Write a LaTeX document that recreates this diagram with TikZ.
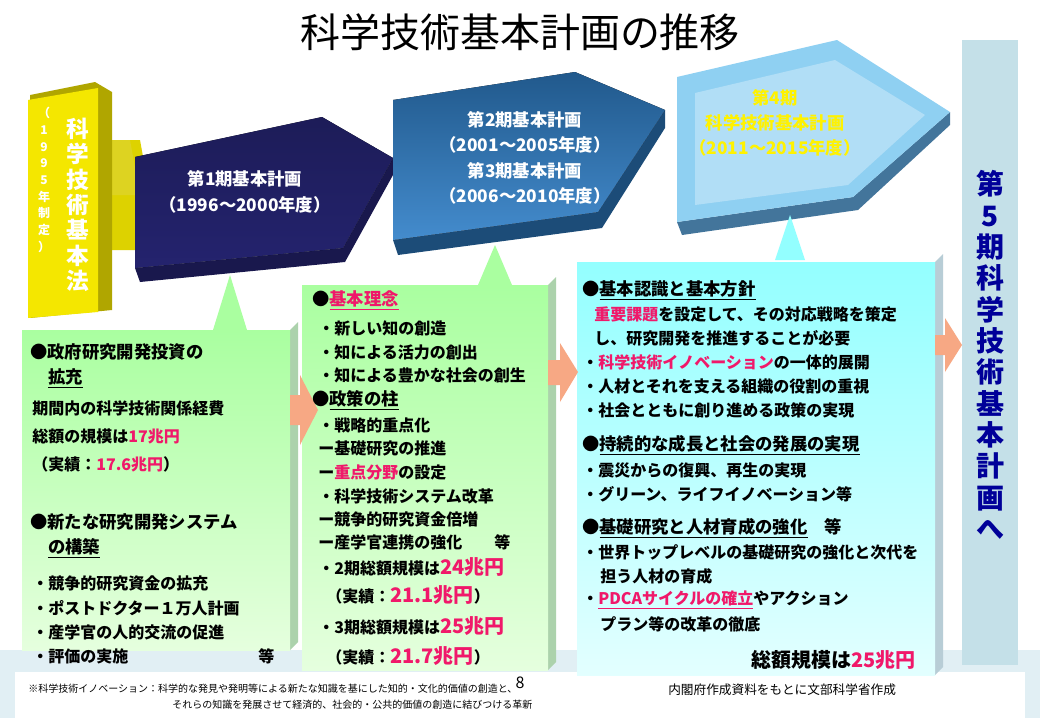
\documentclass[tikz,border=0pt]{standalone}
\usepackage{fontspec}
\setmainfont{Noto Sans CJK JP}
\usetikzlibrary{shadings}
\definecolor{rd}{HTML}{F0186A}
\definecolor{navy}{HTML}{24236E}
\definecolor{blu}{HTML}{2F7FC8}
\definecolor{lblu}{HTML}{8FD0F2}
\definecolor{grn}{HTML}{D4FFC8}
\definecolor{cyn}{HTML}{B8FFFF}
\definecolor{col5}{HTML}{C4E0E8}
\definecolor{org}{HTML}{F7A884}
\newcommand{\rr}[1]{\textcolor{rd}{#1}}
\tikzset{
 tx/.style={anchor=west,inner sep=0pt,font=\fontsize{12}{14}\selectfont\bfseries},
 hd/.style={anchor=west,inner sep=0pt,font=\fontsize{13}{15}\selectfont\bfseries},
 vt/.style={align=center,inner sep=0pt,font=\bfseries},
 arr/.style={fill=org,draw=none},
}
\begin{document}
\begin{tikzpicture}[x=0.75pt,y=-0.75pt]
\useasboundingbox (0,0) rectangle (1040,718);
\fill[white] (0,0) rectangle (1040,718);
\fill[col5!50] (0,650) rectangle (1040,718);
\fill[white] (15,672) rectangle (1025,718);
% title
\node[font=\fontsize{30}{33}\selectfont] (title) at (520,32) {科学技術基本計画の推移};
% yellow column and arrow
\fill[yellow!70!olive] (110,140) -- (140,140) -- (150,195) -- (140,250) -- (110,250) -- cycle;
\fill[yellow!85!black] (110,140) -- (130,140) -- (140,195) -- (110,195) -- cycle;
\fill[olive!70!yellow] (30,95) -- (95,82) -- (112,92) -- (112,310) -- (30,318) -- cycle;
\fill[yellow!90!olive] (28,100) -- (98,88) -- (98,312) -- (28,318) -- cycle;
\node[vt,font=\fontsize{17}{19}\selectfont\bfseries,white] (law) at (78,205) {科\\学\\技\\術\\基\\本\\法};
\node[vt,font=\fontsize{9}{12.5}\selectfont\bfseries,white] (law2) at (44,180) {（\\1\\9\\9\\5\\年\\制\\定\\）};
% navy hexagon
\fill[navy!70!black] (135,268) -- (343,248) -- (393,158) -- (393,175) -- (345,262) -- (140,282) -- cycle;
\fill[top color=navy!80!black,bottom color=navy] (135,157) -- (322,117) -- (393,158) -- (343,248) -- (135,268) -- cycle;
\node[white,align=center,font=\fontsize{13}{19}\selectfont\bfseries] (p1) at (245,192) {第1期基本計画\\（1996～2000年度）};
% blue hexagon
\fill[blu!60!black] (393,240) -- (598,212) -- (665,110) -- (665,128) -- (602,228) -- (398,255) -- cycle;
\fill[top color=blu!70!black,bottom color=blu!90] (393,100) -- (575,72) -- (665,110) -- (598,212) -- (393,240) -- cycle;
\node[white,align=center,font=\fontsize{13}{19}\selectfont\bfseries] (p23) at (525,158) {第2期基本計画\\（2001～2005年度）\\第3期基本計画\\（2006～2010年度）};
% light blue hexagon
\fill[blu!50!lblu!70!black] (677,222) -- (853,197) -- (950,112) -- (950,125) -- (858,210) -- (682,235) -- cycle;
\fill[lblu] (677,77) -- (837,40) -- (950,112) -- (853,197) -- (677,222) -- cycle;
\fill[lblu!70!white] (695,93) -- (835,60) -- (925,115) -- (848,185) -- (695,205) -- cycle;
\node[yellow,align=center,font=\fontsize{13}{19}\selectfont\bfseries] (p4) at (775,123) {第4期\\科学技術基本計画\\（2011～2015年度）};
% right column
\fill[col5] (962,40) rectangle (1018,665);
\node[vt,font=\fontsize{21}{23.5}\selectfont\bfseries,blue!60!black] (p5) at (990,355) {第\\5\\期\\科\\学\\技\\術\\基\\本\\計\\画\\へ};
% callout triangles
\fill[grn!80!green] (213,330) -- (230,275) -- (247,330) -- cycle;
\fill[grn!80!green] (478,285) -- (495,245) -- (512,285) -- cycle;
\fill[cyn!80!cyan] (775,260) -- (790,215) -- (805,260) -- cycle;
% boxes
\fill[green!30!gray!50] (290,330) -- (298,322) -- (298,642) -- (290,650) -- cycle;
\fill[top color=grn!80!green,bottom color=grn!60!white] (22,330) rectangle (290,650);
\fill[green!30!gray!50] (548,285) -- (556,277) -- (556,662) -- (548,670) -- cycle;
\fill[top color=grn!80!green,bottom color=grn!60!white] (302,285) rectangle (548,670);
\fill[cyan!30!gray!50] (935,262) -- (943,254) -- (943,667) -- (935,675) -- cycle;
\fill[top color=cyn!80!cyan,bottom color=cyn!40!white] (577,262) rectangle (935,675);
% orange arrows
\fill[arr] (290,395) -- (300,395) -- (300,375) -- (318,410) -- (300,445) -- (300,425) -- (290,425) -- cycle;
\fill[arr] (548,360) -- (560,360) -- (560,343) -- (578,372) -- (560,402) -- (560,385) -- (548,385) -- cycle;
\fill[arr] (935,335) -- (945,335) -- (945,318) -- (962,345) -- (945,372) -- (945,355) -- (935,355) -- cycle;
% box1 text
\node[hd] (a1) at (30,352) {●政府研究開発投資の};
\node[hd] (a2) at (48,378) {\underline{拡充}};
\node[tx] (a3) at (32,408) {期間内の科学技術関係経費};
\node[tx] (a4) at (32,436) {総額の規模は\rr{17兆円}};
\node[tx] (a5) at (32,464) {（実績：\rr{17.6兆円}）};
\node[hd] (a6) at (30,522) {●新たな研究開発システム};
\node[hd] (a7) at (48,548) {\underline{の構築}};
\node[tx] (a8) at (32,583) {・競争的研究資金の拡充};
\node[tx] (a9) at (32,608) {・ポストドクター１万人計画};
\node[tx] (a10) at (32,632) {・産学官の人的交流の促進};
\node[tx] (a11) at (32,656) {・評価の実施};
\node[tx] (a12) at (258,656) {等};
% box2 text
\node[hd] (b1) at (312,300) {●\rr{\underline{基本理念}}};
\node[tx] (b2) at (318,328) {・新しい知の創造};
\node[tx] (b3) at (318,352) {・知による活力の創出};
\node[tx] (b4) at (318,375) {・知による豊かな社会の創生};
\node[hd] (b5) at (312,400) {●\underline{政策の柱}};
\node[tx] (b6) at (318,425) {・戦略的重点化};
\node[tx] (b7) at (318,448) {ー基礎研究の推進};
\node[tx] (b8) at (318,472) {ー\rr{重点分野}の設定};
\node[tx] (b9) at (318,496) {・科学技術システム改革};
\node[tx] (b10) at (318,519) {ー競争的研究資金倍増};
\node[tx] (b11) at (318,542) {ー産学官連携の強化　　等};
\node[tx] (b12) at (318,567) {・2期総額規模は\rr{\fontsize{15}{17}\selectfont 24兆円}};
\node[tx] (b13) at (326,595) {（実績：\rr{\fontsize{15}{17}\selectfont 21.1兆円}）};
\node[tx] (b14) at (318,626) {・3期総額規模は\rr{\fontsize{15}{17}\selectfont 25兆円}};
\node[tx] (b15) at (326,656) {（実績：\rr{\fontsize{15}{17}\selectfont 21.7兆円}）};
% box3 text
\node[hd] (c1) at (582,290) {●\underline{基本認識と基本方針}};
\node[tx] (c2) at (594,314) {\rr{重要課題}を設定して、その対応戦略を策定};
\node[tx] (c3) at (594,338) {し、研究開発を推進することが必要};
\node[tx] (c4) at (582,362) {・\rr{科学技術イノベーション}の一体的展開};
\node[tx] (c5) at (582,386) {・人材とそれを支える組織の役割の重視};
\node[tx] (c6) at (582,410) {・社会とともに創り進める政策の実現};
\node[hd] (c7) at (582,445) {●\underline{持続的な成長と社会の発展の実現}};
\node[tx] (c8) at (582,470) {・震災からの復興、再生の実現};
\node[tx] (c9) at (582,494) {・グリーン、ライフイノベーション等};
\node[hd] (c10) at (582,528) {●\underline{基礎研究と人材育成の強化}　等};
\node[tx] (c11) at (582,552) {・世界トップレベルの基礎研究の強化と次代を};
\node[tx] (c12) at (600,576) {担う人材の育成};
\node[tx] (c13) at (582,600) {・\rr{\underline{PDCAサイクルの確立}}やアクション};
\node[tx] (c14) at (600,624) {プラン等の改革の徹底};
\node[anchor=east,inner sep=0pt,font=\fontsize{15}{17}\selectfont\bfseries] (c15) at (916,660) {総額規模は\rr{25兆円}};
% footer
\node[anchor=west,inner sep=0pt,font=\fontsize{7.5}{9}\selectfont] (f1) at (28,689) {※科学技術イノベーション：科学的な発見や発明等による新たな知識を基にした知的・文化的価値の創造と、};
\node[anchor=west,inner sep=0pt,font=\fontsize{7.5}{9}\selectfont] (f2) at (172,705) {それらの知識を発展させて経済的、社会的・公共的価値の創造に結びつける革新};
\node[inner sep=0pt,font=\fontsize{12}{14}\selectfont\rmfamily] (pg) at (520,683) {8};
\node[anchor=west,inner sep=0pt,font=\fontsize{9.5}{11}\selectfont] (src) at (668,690) {内閣府作成資料をもとに文部科学省作成};
\end{tikzpicture}
\end{document}
